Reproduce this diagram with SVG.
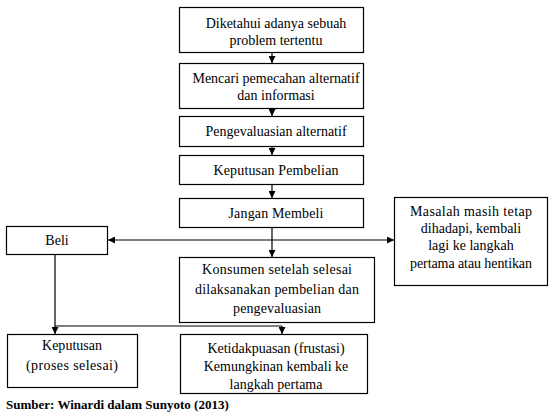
<svg xmlns="http://www.w3.org/2000/svg" width="554" height="416" viewBox="0 0 554 416">
<style>
.box{fill:#fff;stroke:#000;stroke-width:1.2}
.t{font-size:14px;fill:#000;text-anchor:middle}
.ln{stroke:#000;stroke-width:1.2;fill:none}
.cap{font-size:13px;font-weight:bold;fill:#000}
</style>
<defs>
<marker id="ah" viewBox="0 0 8 8" refX="8" refY="4" markerWidth="7" markerHeight="7" markerUnits="userSpaceOnUse" orient="auto">
<path d="M0,0 L8,4 L0,8 Z" fill="#000"/>
</marker>
</defs>
<rect width="554" height="416" fill="#fff"/>
<g id="connectors">
<line class="ln" x1="272" y1="52" x2="272" y2="63" marker-end="url(#ah)"/>
<line class="ln" x1="272" y1="108" x2="272" y2="116" marker-end="url(#ah)"/>
<line class="ln" x1="272" y1="146" x2="272" y2="155" marker-end="url(#ah)"/>
<line class="ln" x1="272" y1="184" x2="272" y2="198" marker-end="url(#ah)"/>
<line class="ln" x1="272" y1="227" x2="272" y2="257" marker-end="url(#ah)"/>
<line class="ln" x1="272" y1="240" x2="108" y2="240" marker-end="url(#ah)"/>
<line class="ln" x1="272" y1="240" x2="394" y2="240" marker-end="url(#ah)"/>
<line class="ln" x1="55" y1="255" x2="55" y2="334" marker-end="url(#ah)"/>
<polyline class="ln" points="55,326 282,326"/>
<line class="ln" x1="282" y1="326" x2="282" y2="334" marker-end="url(#ah)"/>
</g>
<g font-family="'Liberation Serif', 'Times New Roman', serif">
<g id="n1"><rect class="box" x="179.5" y="7.5" width="184" height="45"/>
<text class="t" x="276" y="28">Diketahui adanya sebuah</text>
<text class="t" x="276" y="45">problem tertentu</text></g>
<g id="n2"><rect class="box" x="179.5" y="63.5" width="184" height="45"/>
<text class="t" x="276" y="83">Mencari pemecahan alternatif</text>
<text class="t" x="276" y="100">dan informasi</text></g>
<g id="n3"><rect class="box" x="179.5" y="116.5" width="184" height="30"/>
<text class="t" x="276" y="136">Pengevaluasian alternatif</text></g>
<g id="n4"><rect class="box" x="179.5" y="155.5" width="184" height="29"/>
<text class="t" x="276" y="175" textLength="125" lengthAdjust="spacing">Keputusan Pembelian</text></g>
<g id="n5"><rect class="box" x="179.5" y="198.5" width="184" height="29"/>
<text class="t" x="276" y="218" textLength="95" lengthAdjust="spacing">Jangan Membeli</text></g>
<g id="n6"><rect class="box" x="6.5" y="226.5" width="101" height="28"/>
<text class="t" x="57" y="245">Beli</text></g>
<g id="n7"><rect class="box" x="179.5" y="257.5" width="195" height="65"/>
<text class="t" x="277" y="274" textLength="150" lengthAdjust="spacing">Konsumen setelah selesai</text>
<text class="t" x="277" y="294" textLength="164" lengthAdjust="spacing">dilaksanakan pembelian dan</text>
<text class="t" x="277" y="313" textLength="88" lengthAdjust="spacing">pengevaluasian</text></g>
<g id="n8"><rect class="box" x="394.5" y="197.5" width="153" height="88"/>
<text class="t" x="471" y="216" textLength="122" lengthAdjust="spacing">Masalah masih tetap</text>
<text class="t" x="471" y="233">dihadapi, kembali</text>
<text class="t" x="471" y="250">lagi ke langkah</text>
<text class="t" x="471" y="268" textLength="122" lengthAdjust="spacing">pertama atau hentikan</text></g>
<g id="n9"><rect class="box" x="7.5" y="334.5" width="130" height="53"/>
<text class="t" x="72" y="350" textLength="60" lengthAdjust="spacing">Keputusan</text>
<text class="t" x="72" y="370" textLength="92" lengthAdjust="spacing">(proses selesai)</text></g>
<g id="n10"><rect class="box" x="180.5" y="334.5" width="187" height="59"/>
<text class="t" x="276" y="353">Ketidakpuasan (frustasi)</text>
<text class="t" x="276" y="371">Kemungkinan kembali ke</text>
<text class="t" x="276" y="389">langkah pertama</text></g>
<text class="cap" x="6" y="409">Sumber: Winardi dalam Sunyoto (2013)</text>
</g>
</svg>
